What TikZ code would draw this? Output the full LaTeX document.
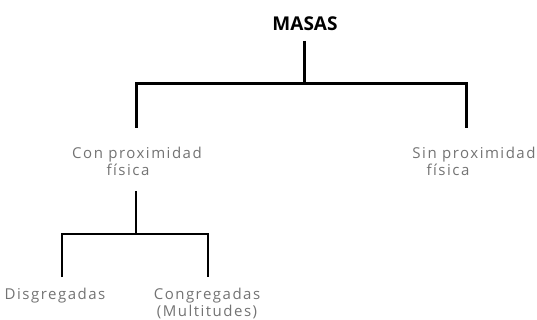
\documentclass[tikz,border=0pt]{standalone}
\usepackage{fontspec}
\setmainfont{Open Sans}
\newfontfamily\lblfont[LetterSpace=10]{Open Sans}
\begin{document}
\begin{tikzpicture}[x=1pt,y=-1pt,
  lbl/.style={font=\lblfont\fontsize{15}{17}\selectfont, text=black!55, align=center, inner sep=0pt},
  ttl/.style={font=\fontsize{19}{22}\selectfont\bfseries, text=black, inner sep=0pt},
  conn/.style={line width=3pt, black}]
\useasboundingbox (0,0) rectangle (537,320);
\node[ttl] (masas) at (305,24) {MASAS};
\node[lbl, anchor=north] (con) at (137,147) {Con proximidad\\física\rule{18pt}{0pt}};
\node[lbl, anchor=north] (sin) at (474,147) {Sin proximidad\\física\rule{52pt}{0pt}};
\node[lbl, anchor=north] (dis) at (55,288) {Disgregadas};
\node[lbl, anchor=north] (cong) at (207,288) {Congregadas\\(Multitudes)};
\coordinate (j1) at (304,84);
\coordinate (j2) at (136,234);
\coordinate (t1) at (304,41);
\coordinate (t2) at (136,191);
\draw[conn] (t1) -- (j1);
\draw[conn] (136,128) -- (136,84) -- (466,84) -- (466,128);
\draw[conn, line width=2.4pt] (t2) -- (j2);
\draw[conn, line width=2.8pt] (62,277) -- (62,234) -- (208,234) -- (208,277);
\end{tikzpicture}
\end{document}
